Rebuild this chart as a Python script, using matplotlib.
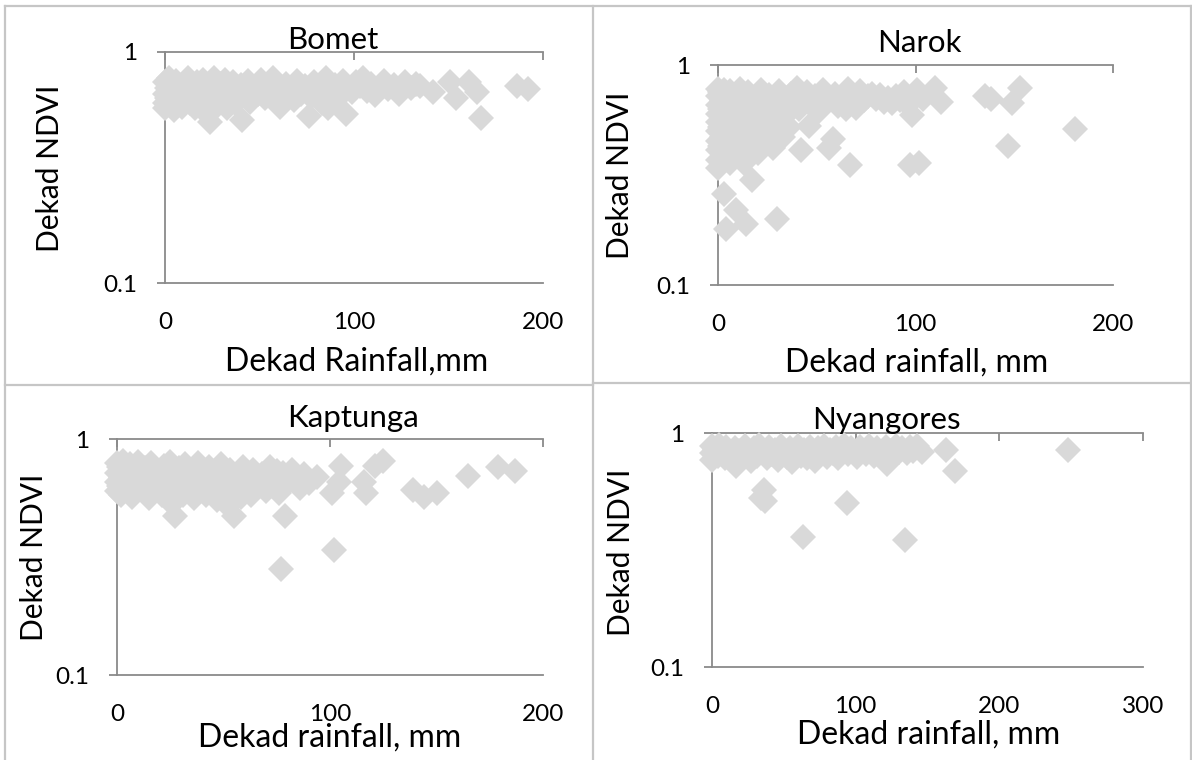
import matplotlib
matplotlib.use('Agg')
import matplotlib.pyplot as plt
from matplotlib.lines import Line2D

W, H = 1192, 760

plt.rcParams.update({
    'font.family': ['Lato', 'DejaVu Sans'],
    'axes.unicode_minus': False,
})

MARK = '#d9d9d9'
AXIS = '#8a8a8a'
FRAME = '#c6c6c6'

# --- Bomet ---
bomet_rain = [0, 0, 0, 0, 1, 1, 2, 2, 3, 4, 5, 5, 6, 7, 8, 9, 10, 11, 12, 13,
              14, 15, 16, 17, 18, 19, 20, 21, 22, 23, 24, 25, 26, 27, 28, 29,
              30, 31, 32, 33, 34, 35, 36, 37, 38, 40, 41, 42, 44, 45,
              47, 49, 51, 53, 55, 57, 59, 61, 62, 64, 66, 68, 70, 72, 74, 76,
              77, 79, 81, 83, 85, 86, 88, 90, 92, 94, 96, 97, 99, 101, 103,
              105, 107, 109, 111, 113, 116, 118, 121, 124, 127, 130, 133, 135,
              142, 151, 154, 161, 165, 167, 186, 192]
bomet_ndvi = [0.74, 0.66, 0.60, 0.57, 0.70, 0.63, 0.77, 0.68, 0.59, 0.72,
              0.65, 0.56, 0.75, 0.69, 0.62, 0.58, 0.73, 0.66, 0.77, 0.60,
              0.70, 0.64, 0.57, 0.74, 0.68, 0.61, 0.76, 0.55, 0.66, 0.71,
              0.50, 0.63, 0.77, 0.58, 0.69, 0.73, 0.62, 0.66, 0.76, 0.57,
              0.70, 0.64, 0.74, 0.60, 0.68, 0.72, 0.51, 0.65, 0.75, 0.61,
              0.70, 0.66, 0.76, 0.63, 0.72, 0.77, 0.68, 0.58, 0.65, 0.73,
              0.69, 0.62, 0.75, 0.66, 0.71, 0.53, 0.64, 0.74, 0.69, 0.60,
              0.77, 0.57, 0.67, 0.72, 0.64, 0.75, 0.54, 0.70, 0.67, 0.74,
              0.71, 0.77, 0.68, 0.73, 0.65, 0.70, 0.75, 0.69, 0.72, 0.66,
              0.74, 0.70, 0.73, 0.71,
              0.67, 0.74, 0.63, 0.74, 0.67, 0.52, 0.71, 0.69]

# --- Narok ---
narok_rain = [0, 0, 0, 0, 0, 0, 0, 0, 0, 0, 1, 1, 1, 1, 2, 2, 2, 2, 3, 3, 3,
              3, 4, 4, 4, 5, 5, 5, 6, 6, 6, 7, 7, 8, 8, 9, 9, 9, 10, 10, 11,
              11, 12, 12, 13, 13, 14, 14, 15, 15, 16, 17, 17, 18, 19, 20, 20,
              21, 22, 22, 23, 24, 25, 26, 27, 28, 29, 30, 30, 31, 32, 33, 34,
              35, 36, 37, 38, 40, 41, 42, 43, 45, 46, 47, 49, 51, 53, 55, 56,
              58, 59, 61, 63, 65, 66, 67, 68, 70, 72, 74, 76, 78, 80, 82, 84,
              86, 88, 90, 92, 94, 96, 97, 98, 99, 101, 102, 104, 110, 113,
              135, 138, 147, 149, 153, 181]
narok_ndvi = [0.78, 0.72, 0.66, 0.60, 0.55, 0.50, 0.45, 0.41, 0.37, 0.34,
              0.75, 0.63, 0.52, 0.43, 0.69, 0.57, 0.47, 0.38, 0.77, 0.26,
              0.61, 0.49, 0.18, 0.72, 0.40, 0.65, 0.54, 0.44, 0.76, 0.58,
              0.36, 0.70, 0.48, 0.62, 0.42, 0.74, 0.53, 0.22, 0.67, 0.39,
              0.78, 0.57, 0.46, 0.71, 0.63, 0.36, 0.19, 0.52, 0.75, 0.43,
              0.68, 0.58, 0.30, 0.48, 0.72, 0.64, 0.40, 0.54, 0.77, 0.45,
              0.67, 0.59, 0.50, 0.73, 0.62, 0.42, 0.69, 0.20, 0.56, 0.76,
              0.65, 0.47, 0.71, 0.60, 0.52, 0.74, 0.67, 0.79, 0.63, 0.41,
              0.70, 0.75, 0.53, 0.66, 0.72, 0.62, 0.77, 0.69, 0.42, 0.46,
              0.74, 0.65, 0.71, 0.63, 0.78, 0.35, 0.70, 0.64, 0.76, 0.69,
              0.72, 0.74, 0.70, 0.73, 0.68, 0.71, 0.67, 0.72, 0.69, 0.75,
              0.66, 0.35, 0.59, 0.73, 0.77, 0.36, 0.70, 0.79, 0.68,
              0.72, 0.70, 0.43, 0.67, 0.79, 0.51]

# --- Kaptunga ---
kaptunga_rain = [0, 0, 0, 0, 1, 1, 2, 2, 3, 4, 4, 5, 6, 7, 8, 9, 10, 11, 12,
                 13, 14, 15, 16, 17, 18, 19, 20, 21, 22, 23, 24, 25, 26, 27,
                 27, 28, 29, 30, 31, 32, 33, 34, 35, 36, 37, 38, 39, 40, 41,
                 42, 43, 44, 45, 46, 47, 48, 49, 50, 51, 52, 53, 54, 55, 56,
                 57, 58, 59, 60, 62, 63, 64, 66, 68, 70, 72, 73, 75, 76, 77,
                 78, 79, 80, 82, 84, 86, 88, 90, 94, 101, 102, 104, 105, 116,
                 117, 121, 125, 139, 144, 150, 165, 179, 187]
kaptunga_ndvi = [0.79, 0.72, 0.66, 0.60, 0.76, 0.63, 0.69, 0.58, 0.81, 0.73,
                 0.61, 0.67, 0.78, 0.57, 0.71, 0.64, 0.80, 0.68, 0.60, 0.75,
                 0.65, 0.56, 0.79, 0.70, 0.62, 0.74, 0.67, 0.58, 0.77, 0.71,
                 0.63, 0.80, 0.53, 0.69, 0.47, 0.61, 0.75, 0.66, 0.58, 0.78,
                 0.70, 0.63, 0.74, 0.56, 0.68, 0.79, 0.61, 0.72, 0.65, 0.58,
                 0.76, 0.69, 0.62, 0.73, 0.55, 0.66, 0.78, 0.70, 0.60, 0.52,
                 0.74, 0.67, 0.47, 0.62, 0.72, 0.57, 0.76, 0.66, 0.70, 0.58,
                 0.74, 0.64, 0.71, 0.60, 0.76, 0.67, 0.73, 0.59, 0.28, 0.72,
                 0.47, 0.65, 0.74, 0.69, 0.62, 0.71, 0.65, 0.69, 0.59, 0.34,
                 0.66, 0.77, 0.66, 0.59, 0.77, 0.81, 0.61, 0.57, 0.59, 0.70,
                 0.76, 0.73]

# --- Nyangores ---
nyangores_rain = [0, 0, 0, 2, 4, 5, 7, 9, 10, 12, 14, 16, 17, 19, 21, 23, 25,
                  27, 29, 31, 33, 34, 35, 36, 37, 38, 40, 42, 44, 46, 48, 50,
                  52, 54, 56, 58, 60, 62, 63, 64, 66, 68, 70, 72, 74, 76, 78,
                  80, 82, 84, 86, 88, 90, 92, 94, 95, 97, 99, 101, 103, 105,
                  107, 109, 111, 113, 115, 117, 119, 121, 122, 124, 126, 128,
                  130, 132, 134, 136, 138, 140, 143, 146, 163, 169, 248]
nyangores_ndvi = [0.88, 0.82, 0.77, 0.85, 0.80, 0.89, 0.83, 0.78, 0.87, 0.81,
                  0.76, 0.86, 0.72, 0.84, 0.79, 0.88, 0.82, 0.76, 0.86, 0.80,
                  0.89, 0.53, 0.83, 0.57, 0.51, 0.78, 0.87, 0.81, 0.85, 0.77,
                  0.88, 0.83, 0.79, 0.86, 0.75, 0.82, 0.88, 0.80, 0.36, 0.85,
                  0.78, 0.87, 0.81, 0.76, 0.86, 0.83, 0.88, 0.79, 0.85, 0.82,
                  0.87, 0.78, 0.84, 0.89, 0.50, 0.81, 0.86, 0.83, 0.79, 0.87,
                  0.84, 0.81, 0.88, 0.85, 0.80, 0.86, 0.83, 0.78, 0.87, 0.74,
                  0.84, 0.81, 0.88, 0.83, 0.86, 0.35, 0.82, 0.87, 0.84, 0.88,
                  0.83, 0.85, 0.69, 0.85]

# panel: name, rain, ndvi, x max, x label, axes box in px (left, right, top, bottom),
# title centre, x label centre, y label centre (all px)
panels = [
    ('Bomet', bomet_rain, bomet_ndvi, 200, 'Dekad Rainfall,mm',
     (165, 543, 52, 283), (333, 40), (357, 362), (50, 168)),
    ('Narok', narok_rain, narok_ndvi, 200, 'Dekad rainfall, mm',
     (718, 1113, 65, 285), (919, 43), (917, 363), (620, 175)),
    ('Kaptunga', kaptunga_rain, kaptunga_ndvi, 200, 'Dekad rainfall, mm',
     (117, 543, 439, 675), (353, 418), (330, 738), (34, 557)),
    ('Nyangores', nyangores_rain, nyangores_ndvi, 300, 'Dekad rainfall, mm',
     (712, 1143, 433, 667), (886, 420), (929, 735), (621, 552)),
]

fig = plt.figure(figsize=(W / 100, H / 100), dpi=100)

for name, rain, ndvi, xmax, xlab, box, tpos, xlpos, ylpos in panels:
    l, r, t, b = box
    ax = fig.add_axes([l / W, 1 - b / H, (r - l) / W, (b - t) / H])
    ax.plot(rain, ndvi, linestyle='none', marker='D', ms=13,
            color=MARK, markeredgewidth=0, clip_on=False, zorder=3)

    ax.set_yscale('log')
    ax.set_ylim(0.1, 1)
    ax.set_yticks([0.1, 1])
    ax.set_yticklabels(['0.1', '1'])
    ax.minorticks_off()
    ax.set_xlim(0, xmax)
    ax.set_xticks(range(0, xmax + 1, 100))

    for side in ['top', 'bottom', 'left']:
        ax.spines[side].set_color(AXIS)
        ax.spines[side].set_linewidth(1.3)
    ax.spines['right'].set_visible(False)

    ax.tick_params(axis='x', top=True, bottom=False, labeltop=False,
                   labelbottom=True, direction='in', length=6, width=1.3,
                   color=AXIS, pad=21, labelsize=17.5)
    ax.tick_params(axis='y', direction='out', length=6, width=1.3,
                   color=AXIS, pad=14, labelsize=17.5)

    w, h = r - l, b - t
    ax.text((tpos[0] - l) / w, (b - tpos[1]) / h, name, transform=ax.transAxes,
            ha='center', va='center', fontsize=22.5)
    ax.set_xlabel(xlab, fontsize=23, va='center')
    ax.xaxis.set_label_coords((xlpos[0] - l) / w, (b - xlpos[1]) / h)
    ax.set_ylabel('Dekad NDVI', fontsize=21.5, va='center')
    ax.yaxis.set_label_coords((ylpos[0] - l) / w, (b - ylpos[1]) / h)

# panel frames
def hline(y, x0, x1):
    fig.add_artist(Line2D([x0 / W, x1 / W], [1 - y / H, 1 - y / H],
                          color=FRAME, lw=1.6))

def vline(x, y0, y1):
    fig.add_artist(Line2D([x / W, x / W], [1 - y0 / H, 1 - y1 / H],
                          color=FRAME, lw=1.6))

hline(6, 5, 1191)
hline(385, 5, 593)
hline(383, 593, 1191)
vline(5, 6, 760)
vline(593, 6, 760)
vline(1190.5, 6, 760)

fig.savefig('out.png', dpi=100)
